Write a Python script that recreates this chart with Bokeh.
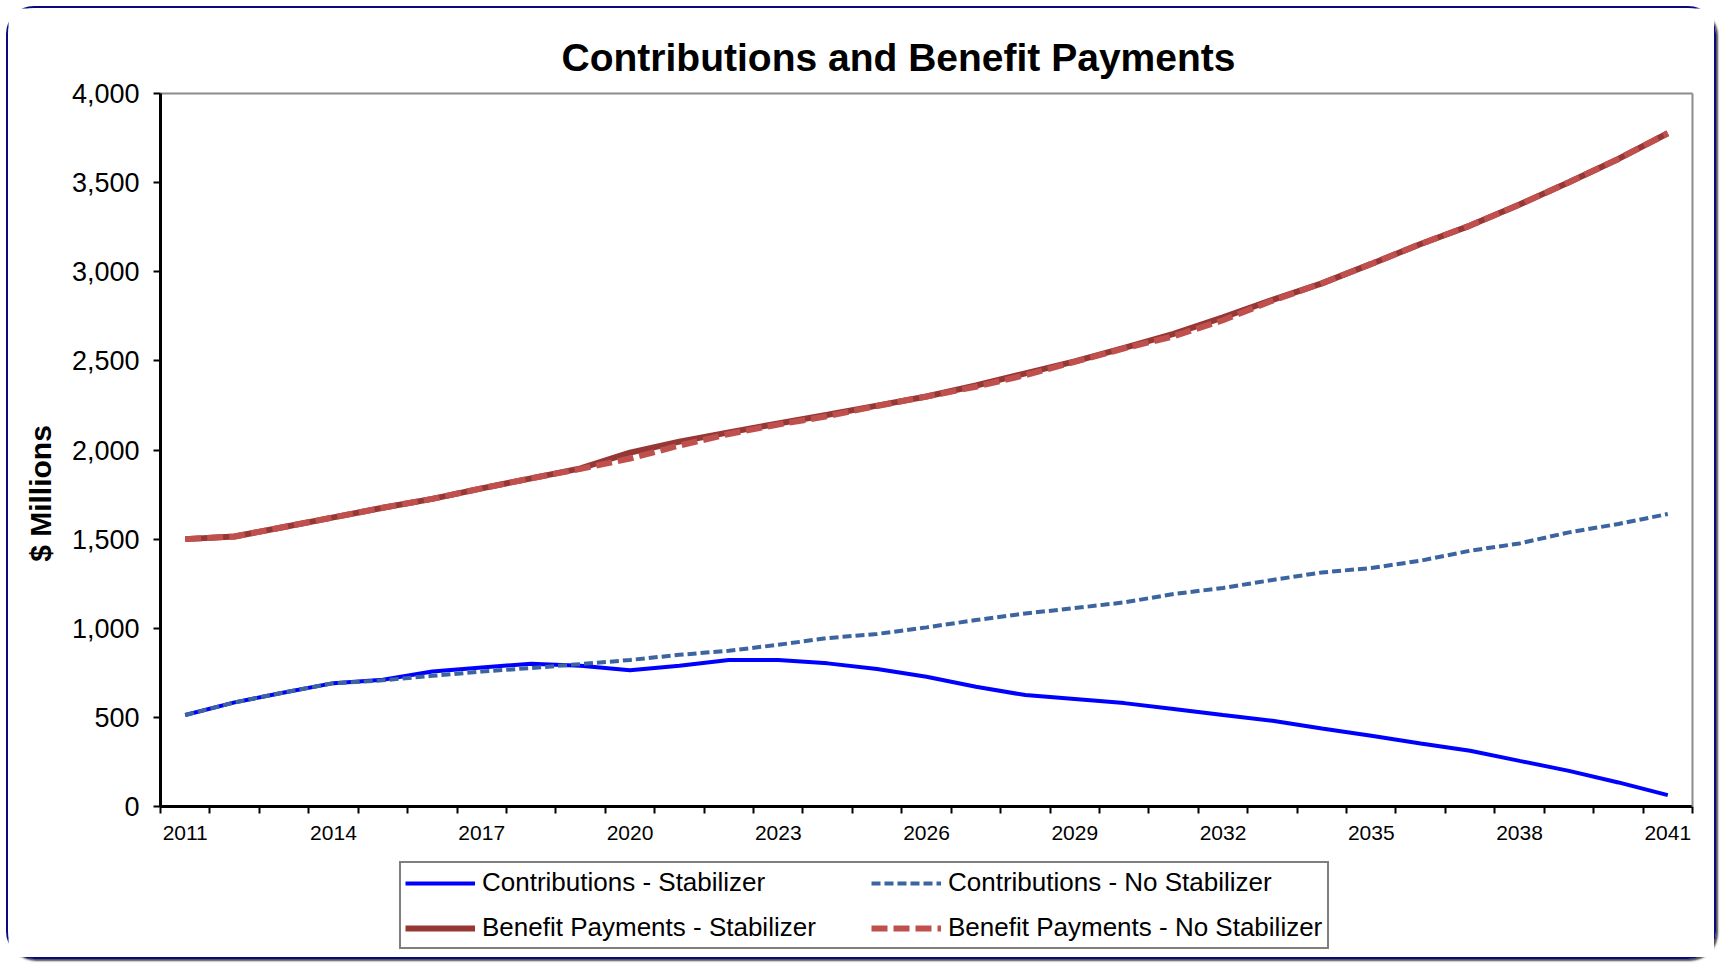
import math
from bokeh.plotting import figure
from bokeh.models import (Range1d, FixedTicker, NumeralTickFormatter, LinearAxis, Label,
                          Legend, LegendItem)
from bokeh.embed import file_html
from bokeh.resources import INLINE

# ---- data ----
years = list(range(2011, 2042))
contrib_stab = [513, 584, 640, 692, 711, 757, 780, 801, 790, 765, 790, 822, 822, 803, 771,
                728, 672, 625, 603, 580, 547, 513, 481, 438, 397, 354, 313, 256, 200, 135, 64]
contrib_nostab = [513, 584, 640, 692, 708, 733, 757, 777, 799, 822, 851, 874, 907, 945, 968,
                  1005, 1046, 1083, 1113, 1145, 1192, 1226, 1271, 1313, 1338, 1379, 1435, 1476,
                  1538, 1585, 1641]
benefit_stab = [1500, 1515, 1568, 1622, 1676, 1726, 1785, 1841, 1897, 1985, 2047, 2099, 2149,
                2198, 2249, 2300, 2362, 2430, 2497, 2573, 2651, 2744, 2842, 2935, 3044, 3156,
                3259, 3377, 3502, 3633, 3777]
benefit_nostab = [1500, 1515, 1568, 1622, 1676, 1726, 1785, 1841, 1894, 1952, 2025, 2090, 2143,
                  2190, 2247, 2300, 2355, 2420, 2495, 2570, 2638, 2728, 2838, 2935, 3044, 3156,
                  3259, 3377, 3502, 3633, 3777]
label_years = [2011, 2014, 2017, 2020, 2023, 2026, 2029, 2032, 2035, 2038, 2041]
y_ticks = [0, 500, 1000, 1500, 2000, 2500, 3000, 3500, 4000]
y_max = 4000
title_text = "Contributions and Benefit Payments"
y_title = "$ Millions"
series_names = ["Contributions - Stabilizer", "Contributions - No Stabilizer",
                "Benefit Payments - Stabilizer", "Benefit Payments - No Stabilizer"]

FONT = "Liberation Sans"

# ---- layout (page pixels) ----
W, H = 1710, 953          # canvas size
CX, CY = 8, 8             # canvas origin on the page (css margin + border)
PL, PR, PT, PB = 160, 1692, 93, 806   # plot area on the page
x_lo, x_hi = years[0] - 0.5, years[-1] + 0.5
xs = (PR - PL) / (x_hi - x_lo)          # px per year
ys = (PB - PT) / y_max                  # px per unit
x0 = x_lo - (PL - CX) / xs
x1 = x0 + W / xs
y1 = y_max + (PT - CY) / ys
y0 = y1 - H / ys


def data_x(px):
    return x0 + (px - CX) / xs


def data_y(py):
    return y1 - (py - CY) / ys


p = figure(width=W, height=H, output_backend="svg", toolbar_location=None,
           x_range=Range1d(x0, x1), y_range=Range1d(y0, y1),
           min_border_left=0, min_border_right=0, min_border_top=0, min_border_bottom=0)
p.styles = {"border": "2px solid #0a0a80", "border-radius": "28px",
            "box-shadow": "2px 2px 2px rgba(0,0,0,0.7)", "margin": "6px 0 0 6px"}
p.background_fill_color = "white"
p.border_fill_color = "white"
p.outline_line_color = None
p.xgrid.visible = False
p.ygrid.visible = False

# x axis: labels at category centres, tick marks at category boundaries
boundaries = [y - 0.5 for y in years] + [years[-1] + 0.5]
xa = p.xaxis[0]
xa.fixed_location = 0
xa.bounds = (x_lo, x_hi)
xa.ticker = FixedTicker(ticks=label_years, minor_ticks=boundaries)
xa.axis_line_color = "black"
xa.axis_line_width = 3
xa.major_tick_line_color = None
xa.major_tick_out = 7
xa.major_tick_in = 0
xa.minor_tick_line_color = "black"
xa.minor_tick_line_width = 2
xa.minor_tick_out = 7
xa.minor_tick_in = 0
xa.major_label_text_font = FONT
xa.major_label_text_font_size = "21px"
xa.major_label_text_color = "black"
xa.major_label_standoff = 12

ya = p.yaxis[0]
ya.fixed_location = x_lo
ya.bounds = (0, y_max)
ya.ticker = FixedTicker(ticks=y_ticks)
ya.formatter = NumeralTickFormatter(format="0,0")
ya.axis_line_color = "black"
ya.axis_line_width = 3
ya.major_tick_line_color = "black"
ya.major_tick_line_width = 2
ya.major_tick_out = 7
ya.major_tick_in = 0
ya.minor_tick_line_color = None
ya.major_label_text_font = FONT
ya.major_label_text_font_size = "27px"
ya.major_label_text_color = "black"
ya.major_label_standoff = 14

# grey plot-area border on top and right
for side, loc, bnds in (("above", y_max, (x_lo, x_hi)), ("right", x_hi, (0, y_max))):
    ax = LinearAxis(ticker=FixedTicker(ticks=[]), fixed_location=loc, bounds=bnds,
                    axis_line_color="#8c8c8c", axis_line_width=2,
                    major_tick_line_color=None, minor_tick_line_color=None,
                    major_label_text_font_size="0px")
    p.add_layout(ax, side)

r1 = p.line(years, contrib_stab, line_color="#0000ff", line_width=4)
r2 = p.line(years, contrib_nostab, line_color="#3b64a0", line_width=4, line_dash="9 4")
r3 = p.line(years, benefit_stab, line_color="#953735", line_width=6)
r4 = p.line(years, benefit_nostab, line_color="#c0504d", line_width=6, line_dash="16 6")

p.add_layout(Label(x=data_x(898), y=data_y(57), text=title_text, text_font=FONT,
                   text_font_size="39px", text_font_style="bold", text_align="center",
                   text_baseline="middle", text_color="black"))
p.add_layout(Label(x=data_x(40), y=data_y(493), text=y_title, text_font=FONT,
                   text_font_size="30px", text_font_style="bold", text_align="center",
                   text_baseline="middle", angle=math.pi / 2, text_color="black"))

legend = Legend(items=[LegendItem(label=series_names[0], renderers=[r1]),
                       LegendItem(label=series_names[1], renderers=[r2]),
                       LegendItem(label=series_names[2], renderers=[r3]),
                       LegendItem(label=series_names[3], renderers=[r4])],
                location=(399 - CX, CY + H - 949), orientation="horizontal", ncols=2,
                margin=0, padding=4, spacing=14, glyph_width=70, glyph_height=30,
                label_height=30, label_width=375, label_standoff=7, label_text_font=FONT,
                label_text_font_size="26px", label_text_color="black",
                border_line_color="black", border_line_width=2,
                background_fill_color="white", background_fill_alpha=1.0)
p.add_layout(legend, "center")

open("out.html", "w").write(file_html(p, INLINE))
